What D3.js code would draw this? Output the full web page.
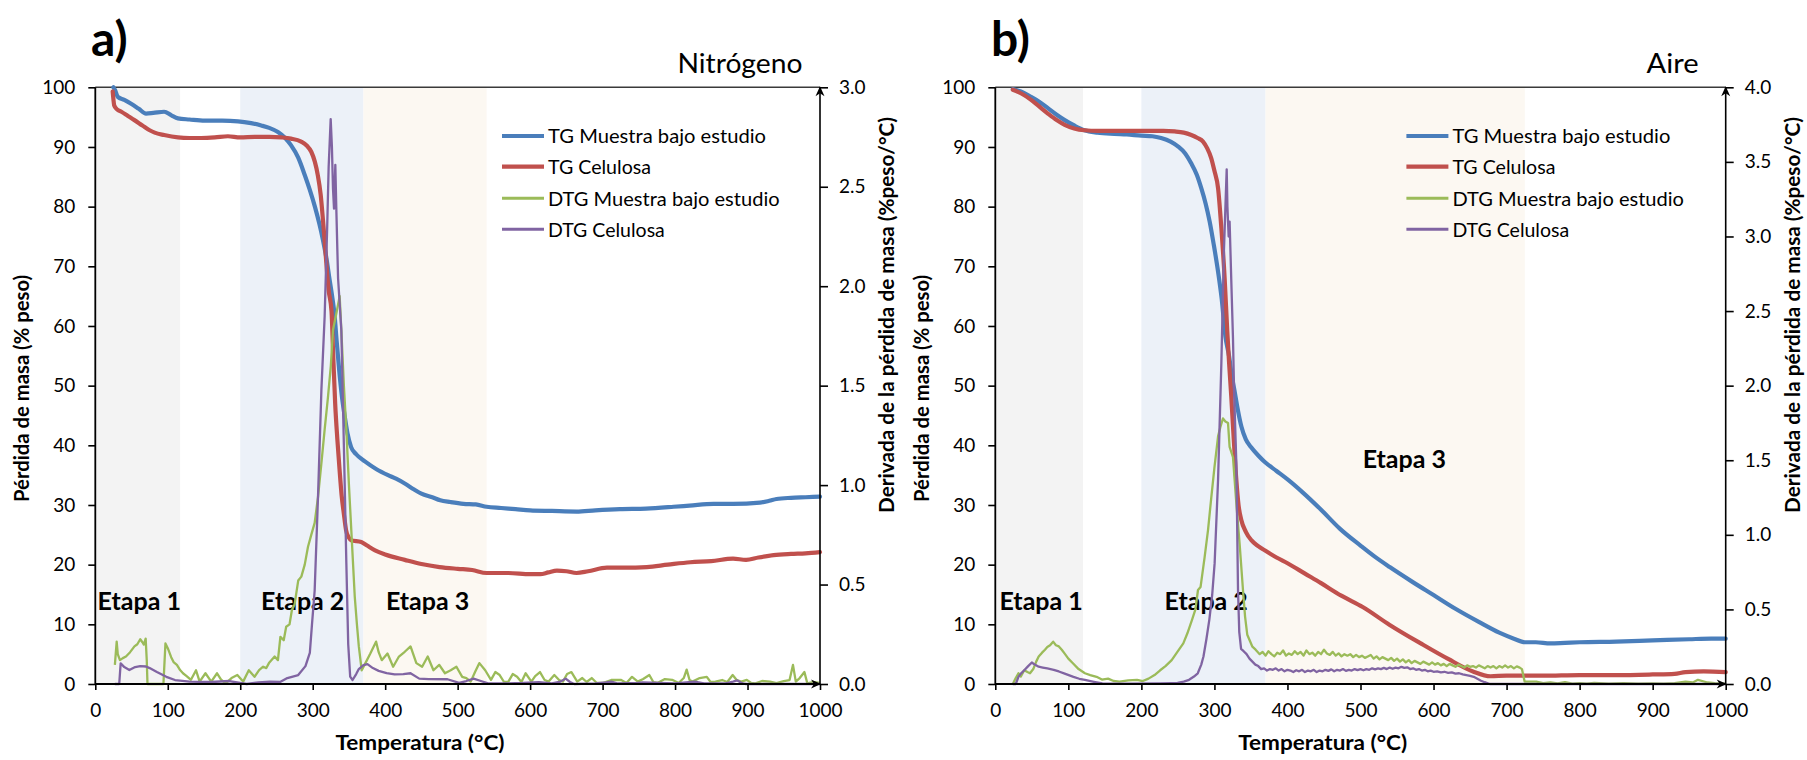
<!DOCTYPE html>
<html><head><meta charset="utf-8">
<script src="https://cdn.jsdelivr.net/npm/d3@7/dist/d3.min.js"></script>
<style>
body{margin:0;background:#fff;}
svg{display:block;}
</style></head><body>
<svg id="chart" width="1807" height="760"></svg>
<script>
// ---------------- DATA ----------------
const tempTicks = [0,100,200,300,400,500,600,700,800,900,1000];
const pctTicks = [0,10,20,30,40,50,60,70,80,90,100];
const dtgTicksN = [0,0.5,1.0,1.5,2.0,2.5,3.0];
const dtgTicksA = [0,0.5,1.0,1.5,2.0,2.5,3.0,3.5,4.0];
const seriesNames = ['TG Muestra bajo estudio','TG Celulosa','DTG Muestra bajo estudio','DTG Celulosa'];
const etapaLabels = ['Etapa 1','Etapa 2','Etapa 3'];
const stageBandsN = [[0,117],[200,370],[370,540]];
const stageBandsA = [[0,120],[200,370],[370,725]];
const panelLetters = ['a)','b)'];
const atmospheres = ['Nitrógeno','Aire'];
const xTitle = 'Temperatura (°C)';
const yLeftTitle = 'Pérdida de masa (% peso)';
const yRightTitle = 'Derivada de la pérdida de masa (%peso/°C)';

// Nitrógeno (a): TG in % peso, DTG in %peso/°C
const tgMuestraN = [[25,100],[27,99.6],[31,98.4],[40,97.9],[50,97.2],[60,96.4],[70,95.6],[80,95.7],[95,95.9],[105,95.3],[114,94.8],[130,94.6],[151,94.4],[175,94.4],[197,94.3],[215,94.0],[229,93.6],[240,93.2],[252,92.5],[262,91.5],[270,90.3],[280,88.2],[289,85.3],[296,82.8],[303,80.0],[309,77.2],[314,74.5],[319,71.3],[323,68.0],[327,64.8],[330,62.0],[333,57.5],[337,52],[341,47.5],[344,45],[348,42],[353,39.7],[360,38.5],[372,37.3],[388,36.0],[404,35],[415,34.4],[427,33.6],[440,32.6],[450,31.9],[465,31.3],[476,30.8],[490,30.5],[508,30.2],[525,30.1],[540,29.7],[560,29.5],[580,29.3],[600,29.1],[630,29.0],[664,28.9],[690,29.1],[724,29.3],[760,29.4],[798,29.7],[820,29.9],[853,30.2],[880,30.2],[917,30.4],[930,30.7],[940,31.0],[960,31.2],[980,31.3],[1000,31.4]];
const tgCelulosaN = [[24,99.3],[25,98],[26,97.0],[30,96.3],[36,95.9],[45,95.2],[54,94.5],[65,93.6],[75,92.8],[82,92.4],[95,92.0],[114,91.6],[130,91.5],[146,91.5],[165,91.6],[183,91.8],[200,91.6],[220,91.7],[240,91.7],[257,91.6],[270,91.4],[284,90.9],[292,90.2],[298,89.2],[303,87.5],[307,85.3],[311,82],[314,78],[317,73.5],[319,70.2],[322,66],[326,62.4],[328,56],[331,47],[334,41],[337,36],[340,31.5],[343,28.5],[346,25.8],[350,24.5],[353,24.1],[367,23.8],[375,23.2],[386,22.4],[400,21.7],[427,20.8],[450,20.1],[475,19.6],[500,19.3],[520,19.1],[540,18.6],[570,18.6],[600,18.4],[614,18.4],[625,18.7],[637,19.0],[650,18.9],[664,18.6],[680,18.9],[706,19.5],[730,19.5],[761,19.6],[790,20.0],[821,20.4],[850,20.6],[880,21.0],[898,20.8],[915,21.2],[936,21.6],[960,21.8],[980,21.9],[1000,22.1]];
const dtgMuestraN = [[27,0.096],[29.5,0.213],[31,0.15],[34,0.12],[38,0.13],[42.3,0.138],[48,0.16],[54,0.189],[58,0.2],[62,0.225],[65,0.21],[67,0.198],[69.5,0.228],[71,0.12],[72,0],[94,0],[96.8,0.204],[100,0.18],[104.7,0.135],[108,0.11],[112.6,0.096],[117,0.07],[121,0.054],[126,0.04],[132,0.021],[139,0.069],[144,0.012],[152,0.054],[160,0.012],[168,0.054],[174,0.02],[180,0.003],[188,0.03],[196,0.045],[204,0.012],[211.8,0.069],[219.7,0.036],[226,0.07],[231.6,0.087],[236,0.08],[239.6,0.105],[247.5,0.138],[252,0.12],[255.4,0.237],[260,0.22],[263.4,0.288],[268,0.3],[271.3,0.372],[275,0.4],[280,0.52],[284.3,0.54],[289,0.6],[293.5,0.69],[298,0.75],[302.7,0.81],[307.3,0.94],[312,1.11],[316.5,1.28],[321,1.44],[325,1.6],[328,1.78],[333,1.87],[337.2,1.95],[339.5,1.78],[343,1.5],[346.4,1.28],[350,1.0],[353.3,0.77],[358,0.44],[361,0.3],[363.6,0.19],[367.6,0.069],[372,0.1],[379.5,0.153],[387.4,0.213],[391,0.16],[395.3,0.12],[403.2,0.153],[411,0.087],[419,0.138],[427,0.162],[435,0.189],[443,0.105],[451,0.087],[458.7,0.138],[466.6,0.069],[474.6,0.096],[482.5,0.054],[490.4,0.069],[498.3,0.087],[506.3,0.036],[512,0.03],[518,0.012],[524,0.06],[530,0.105],[538,0.069],[546,0.021],[552,0.06],[558,0.045],[564,0.01],[570,0.012],[576,0.05],[582,0.036],[588,0.01],[593.8,0.054],[601.7,0.012],[607,0.04],[613.6,0.06],[620,0.02],[625.5,0.012],[633.4,0.045],[640,0.02],[645.3,0.012],[651,0.05],[657,0.06],[665,0.012],[672,0.03],[678,0.01],[685,0.03],[692,0.005],[701,0.006],[712,0.02],[725,0.021],[733,0.005],[740.6,0.036],[748.6,0.012],[756,0.025],[764.5,0.045],[770,0.01],[776.3,0.006],[786,0.025],[796,0.021],[805,0.005],[812,0.03],[816,0.072],[820,0.02],[824,0.012],[834,0.03],[843.8,0.036],[849,0.01],[855.7,0.012],[865,0.02],[872,0.01],[879.5,0.045],[885,0.02],[891.4,0.012],[899,0.021],[905,0.005],[911,0.003],[920,0.015],[931,0.012],[940,0.005],[950,0.015],[958,0.02],[962.7,0.096],[966.6,0.012],[972,0.03],[978.5,0.06],[982.5,0.003],[990,0.01],[1000,0.006]];
const dtgCelulosaN = [[27,0],[33,0],[35,0.104],[40,0.085],[47,0.07],[55,0.085],[62,0.09],[70,0.088],[75,0.08],[85,0.06],[98,0.036],[110,0.02],[130,0.012],[160,0.01],[185,0.015],[200,0.005],[209,0],[225,0.008],[241,0.012],[255,0.01],[265,0.03],[280,0.045],[290,0.09],[296,0.156],[299,0.3],[302.7,0.47],[307.3,0.94],[312,1.48],[316.5,1.85],[320,2.3],[322,2.6],[324.8,2.84],[326.5,2.7],[328,2.49],[329.4,2.39],[330.3,2.5],[331.2,2.61],[332.5,2.4],[335,2.04],[339.5,1.78],[343,1.2],[346.4,0.61],[349,0.2],[351.7,0.037],[355,0.02],[360,0.05],[363.6,0.075],[370,0.095],[375.5,0.1],[383,0.08],[391,0.066],[402,0.055],[413,0.048],[425,0.05],[435,0.054],[447,0.027],[460,0.025],[486,0.024],[502,0.006],[512,0.015],[522,0.027],[532,0.015],[542,0.003],[565,0.003],[590,0.005],[612,0.009],[630,0.003],[642,0.012],[649,0.027],[655,0.01],[661,0],[690,0.003],[705,0.008],[712,0.012],[720,0.003],[748,0.006],[755,0.008],[800,0.003],[827,0.012],[840,0.003],[870,0.003],[880,0.012],[886,0.018],[893,0.003],[898,0],[1000,0]];

// Aire (b)
const tgMuestraA = [[24,99.7],[35,99.3],[49,98.4],[60,97.6],[72,96.5],[84,95.4],[95,94.5],[108,93.6],[122,92.8],[140,92.4],[163,92.2],[180,92.1],[200,91.9],[215,91.8],[227,91.5],[240,90.9],[250,90.1],[260,88.9],[268,87.3],[276,85.3],[282,83.1],[288,80.5],[293.5,77.5],[299,73.7],[305,69.1],[310,64.5],[315,58.3],[320,55],[324,51.5],[328,48.8],[332,46],[337,43.1],[343,41],[350,39.7],[360,38.3],[369,37.2],[385,35.7],[401,34.2],[420,32.2],[446,29.2],[472,26],[500,23.2],[520,21.3],[540,19.6],[570,17.2],[600,14.9],[630,12.6],[662,10.4],[690,8.6],[710,7.6],[725,7.0],[740,7.0],[760,6.8],[780,6.9],[800,7.0],[850,7.1],[900,7.3],[950,7.5],[980,7.6],[1000,7.6]];
const tgCelulosaA = [[24,99.6],[35,99.0],[49,97.9],[60,96.8],[72,95.6],[84,94.5],[95,93.7],[108,93.1],[122,92.8],[140,92.7],[163,92.7],[200,92.7],[230,92.7],[245.6,92.6],[258,92.4],[268.3,92.0],[277,91.5],[284.4,90.9],[290,89.8],[295.7,88.1],[300,86],[305,83.1],[309.5,76.4],[314,68],[317.6,59.1],[320,54],[323.1,48.1],[326,42],[330,34.2],[333,30],[336.8,27.5],[343,25.5],[350.5,24.1],[360,23.1],[368.8,22.4],[385,21.2],[400.7,20.2],[424,18.5],[446,16.9],[473.7,14.8],[503,12.9],[540,9.9],[582.5,6.8],[620,4.2],[654,2.1],[678,1.3],[700,1.4],[750,1.4],[800,1.5],[850,1.5],[900,1.6],[930,1.7],[945,2.0],[970,2.1],[1000,2.0]];
const dtgMuestraA = [[24,0],[28,0.04],[31.7,0.072],[35,0.05],[39.6,0.092],[44,0.08],[47.5,0.072],[52,0.1],[56,0.15],[59.4,0.184],[64,0.21],[68,0.23],[71.2,0.248],[75,0.26],[79.2,0.284],[83,0.26],[87,0.252],[91,0.23],[95,0.204],[100,0.17],[106.9,0.136],[114,0.1],[122.7,0.072],[130,0.06],[138.6,0.048],[146,0.03],[154.4,0.036],[162,0.02],[170,0.016],[182,0.024],[194,0.028],[202,0.02],[209.8,0.036],[218,0.06],[225.7,0.092],[233,0.12],[241.5,0.16],[250,0.22],[257.4,0.272],[263,0.34],[269.2,0.428],[274,0.5],[277.5,0.63],[281,0.65],[286.6,0.85],[291.2,1.03],[295.7,1.25],[300,1.45],[305,1.66],[308,1.72],[311.7,1.78],[315,1.76],[318.6,1.75],[320.8,1.59],[325.4,1.52],[330,1.21],[334.5,0.94],[339.1,0.63],[342,0.45],[345,0.33],[348.5,0.29],[352,0.25],[356.4,0.23],[362,0.2],[366,0.215],[370,0.19],[374,0.22],[378,0.2],[382,0.185],[386,0.21],[390,0.2],[394,0.225],[398,0.19],[402,0.205],[406,0.195],[410,0.22],[414,0.2],[418,0.215],[422,0.19],[426,0.225],[430,0.2],[434,0.21],[438,0.19],[442,0.215],[446,0.2],[450,0.23],[454,0.205],[458,0.195],[462,0.215],[466,0.19],[470,0.205],[474,0.185],[478,0.2],[482,0.19],[486,0.2],[490,0.18],[494,0.195],[498,0.18],[502,0.19],[506,0.175],[510,0.185],[514,0.195],[518,0.17],[522,0.185],[526,0.165],[530,0.18],[534,0.17],[538,0.16],[542,0.175],[546,0.155],[550,0.17],[554,0.15],[558,0.165],[562,0.145],[566,0.16],[570,0.14],[574,0.155],[578,0.145],[582,0.135],[586,0.15],[590,0.14],[594,0.13],[598,0.145],[602,0.13],[606,0.14],[610,0.125],[614,0.135],[618,0.12],[622,0.135],[626,0.125],[630,0.115],[634,0.13],[638,0.12],[642,0.11],[646,0.125],[650,0.115],[654,0.12],[658,0.11],[662,0.125],[666,0.115],[670,0.105],[674,0.12],[678,0.11],[682,0.12],[686,0.105],[690,0.12],[694,0.11],[698,0.125],[702,0.11],[706,0.12],[710,0.105],[714,0.118],[718,0.11],[721,0.1],[724.7,0.016],[740.6,0.016],[750,0.006],[760,0.01],[770,0.004],[780,0.012],[790,0.003],[800,0.006],[810,0.002],[820,0.008],[840,0.003],[860,0.005],[880,0.002],[899,0.004],[915,0.002],[930,0.005],[945,0.015],[955,0.01],[962,0.028],[975,0.01],[985,0.006],[994,0.004],[1000,0.003]];
const dtgCelulosaA = [[24,0],[28,0],[31.7,0.048],[35,0.07],[39.6,0.092],[45,0.12],[50,0.144],[54,0.13],[59.4,0.116],[65,0.11],[71.2,0.104],[80,0.095],[87,0.084],[95,0.07],[107,0.048],[115,0.035],[122.7,0.028],[135,0.015],[146.5,0.004],[180,0.002],[225.7,0.004],[240,0.006],[249.5,0.008],[258,0.016],[265.3,0.028],[272,0.05],[277.2,0.072],[282,0.13],[285,0.184],[289,0.3],[293,0.43],[297,0.6],[300.3,0.81],[305,1.37],[309.5,2.15],[313,2.9],[316.8,3.45],[317.8,3.2],[318.6,3.10],[319.5,3.0],[320.8,3.10],[323,2.72],[325.4,2.32],[327,1.95],[330,1.48],[332.3,0.63],[334,0.35],[336.5,0.236],[340,0.22],[344,0.2],[348,0.17],[352,0.15],[356,0.13],[360,0.12],[364,0.1],[368,0.105],[372,0.09],[376,0.1],[380,0.095],[384,0.105],[388,0.09],[392,0.1],[396,0.085],[400,0.095],[404,0.09],[408,0.08],[412,0.092],[416,0.085],[420,0.095],[424,0.08],[428,0.09],[432,0.085],[436,0.095],[440,0.08],[444,0.09],[448,0.085],[452,0.095],[456,0.088],[460,0.098],[464,0.085],[468,0.095],[472,0.09],[476,0.1],[480,0.088],[484,0.095],[488,0.09],[492,0.1],[496,0.093],[500,0.1],[504,0.092],[508,0.1],[512,0.095],[516,0.105],[520,0.098],[524,0.105],[528,0.1],[532,0.108],[536,0.1],[540,0.11],[544,0.102],[548,0.11],[552,0.105],[556,0.115],[560,0.108],[564,0.112],[568,0.1],[572,0.105],[576,0.095],[580,0.1],[584,0.09],[588,0.095],[592,0.085],[596,0.09],[600,0.082],[605,0.085],[610,0.078],[615,0.082],[620,0.075],[625,0.078],[630,0.07],[635,0.072],[640,0.065],[645,0.06],[650,0.055],[655,0.048],[660,0.035],[665,0.022],[670,0.012],[677,0],[1000,0]];

// ---------------- DRAWING ----------------
const svg = d3.select('#chart');
const FONT = "Lato, 'Open Sans', sans-serif";
const colors = ['#4a7ebb','#c0504d','#9bbb59','#8064a2'];
const bandColors = ['#f3f3f3','#ecf1f8','#fcf8f2'];

const defs = svg.append('defs');
defs.append('marker').attr('id','arrowHead')
  .attr('viewBox','-10 -6 12 12').attr('refX',0).attr('refY',0)
  .attr('markerWidth',12).attr('markerHeight',12).attr('markerUnits','userSpaceOnUse')
  .attr('orient','auto')
  .append('path').attr('d','M1,0 L-9,-4.5 L-6,0 L-9,4.5 Z').attr('fill','#000');

const panels = [
  {left:95.3, right:820, top:87.3, bottom:684, rMax:3, rTicks:dtgTicksN, bands:stageBandsN,
   series:[tgMuestraN,tgCelulosaN,dtgMuestraN,dtgCelulosaN],
   letterX:91, gasRight:802.5, gasW:125, legendX:502, titleLX:29.3, titleRX:893.5, xTitleCx:420,
   etapas:[[3.2,12.4],[228.7,12.4],[401,12.4]]},
  {left:995.3, right:1725.7, top:87.3, bottom:684, rMax:4, rTicks:dtgTicksA, bands:stageBandsA,
   series:[tgMuestraA,tgCelulosaA,dtgMuestraA,dtgCelulosaA],
   letterX:991, gasRight:1698.6, gasW:52, legendX:1406.4, titleLX:929.3, titleRX:1799.5, xTitleCx:1322.7,
   etapas:[[5.75,12.4],[231.7,12.4],[503,36.2]]}
];

panels.forEach((p, pi) => {
  const x = d3.scaleLinear().domain([0,1000]).range([p.left, p.right]);
  const yL = d3.scaleLinear().domain([0,100]).range([p.bottom, p.top]);
  const yR = d3.scaleLinear().domain([0,p.rMax]).range([p.bottom, p.top]);
  const g = svg.append('g');

  // stage bands
  g.selectAll('rect.band').data(p.bands).join('rect').attr('class','band')
    .attr('x', d => x(d[0])).attr('width', d => x(d[1]) - x(d[0]))
    .attr('y', p.top).attr('height', p.bottom - p.top)
    .attr('fill', (d,i) => bandColors[i]);

  // top border line
  g.append('line').attr('x1', x(0)).attr('x2', x(1000)).attr('y1', yL(100)).attr('y2', yL(100))
    .attr('stroke','#3a3a3a').attr('stroke-width',1.6);

  // Etapa labels
  g.selectAll('text.etapa').data(p.etapas).join('text').attr('class','etapa')
    .attr('x', d => x(d[0])).attr('y', d => yL(d[1]))
    .attr('font-family', FONT).attr('font-weight', 700).attr('font-size', 25)
    .attr('fill','#000').text((d,i) => etapaLabels[i]);

  // lines
  const tgLine = d3.line().x(d => x(d[0])).y(d => yL(d[1])).curve(d3.curveMonotoneX);
  const dtgLine = d3.line().x(d => x(d[0])).y(d => yR(d[1])).curve(d3.curveLinear);
  g.append('path').datum(p.series[0]).attr('d', tgLine).attr('fill','none')
    .attr('stroke', colors[0]).attr('stroke-width',4.2).attr('stroke-linejoin','round').attr('stroke-linecap','round');
  g.append('path').datum(p.series[1]).attr('d', tgLine).attr('fill','none')
    .attr('stroke', colors[1]).attr('stroke-width',4.2).attr('stroke-linejoin','round').attr('stroke-linecap','round');
  g.append('path').datum(p.series[2]).attr('d', dtgLine).attr('fill','none')
    .attr('stroke', colors[2]).attr('stroke-width',2.3).attr('stroke-linejoin','round');
  g.append('path').datum(p.series[3]).attr('d', dtgLine).attr('fill','none')
    .attr('stroke', colors[3]).attr('stroke-width',2.3).attr('stroke-linejoin','round');

  // axes
  const axL = g.append('g').attr('transform', `translate(${p.left},0)`)
    .call(d3.axisLeft(yL).tickValues(pctTicks).tickSize(7).tickSizeOuter(0).tickPadding(13));
  const axR = g.append('g').attr('transform', `translate(${p.right},0)`)
    .call(d3.axisRight(yR).tickValues(p.rTicks).tickFormat(d3.format('.1f')).tickSize(8).tickSizeOuter(0).tickPadding(11));
  const axB = g.append('g').attr('transform', `translate(0,${p.bottom})`)
    .call(d3.axisBottom(x).tickValues(tempTicks).tickFormat(d3.format('d')).tickSize(6).tickSizeOuter(0).tickPadding(14));
  [axL, axR, axB].forEach(a => {
    a.selectAll('text').attr('font-family', FONT).attr('font-size', 19).attr('fill','#000');
    a.selectAll('.tick line').attr('stroke','#000').attr('stroke-width',1.6);
    a.select('.domain').remove();
  });
  // axis lines
  g.append('line').attr('x1', p.left).attr('x2', p.left).attr('y1', p.top).attr('y2', p.bottom)
    .attr('stroke','#000').attr('stroke-width',1.8);
  g.append('line').attr('x1', p.right).attr('x2', p.right).attr('y1', p.bottom).attr('y2', p.top)
    .attr('stroke','#000').attr('stroke-width',1.6).attr('marker-end','url(#arrowHead)');
  g.append('line').attr('x1', p.left).attr('x2', p.right).attr('y1', p.bottom).attr('y2', p.bottom)
    .attr('stroke','#000').attr('stroke-width',1.8).attr('marker-end','url(#arrowHead)');

  // legend
  const lg = g.append('g');
  const rowsY = [136, 166.7, 198.3, 229.3];
  const legendW = [218, 103, 231.6, 116.8];
  seriesNames.forEach((name, i) => {
    lg.append('line').attr('x1', p.legendX).attr('x2', p.legendX + 42).attr('y1', rowsY[i]).attr('y2', rowsY[i])
      .attr('stroke', colors[i]).attr('stroke-width', i < 2 ? 4.2 : 3);
    lg.append('text').attr('x', p.legendX + 46).attr('y', rowsY[i]).attr('dy','0.36em')
      .attr('font-family', FONT).attr('font-size', 20).attr('fill','#000')
      .attr('textLength', legendW[i]).attr('lengthAdjust','spacingAndGlyphs')
      .text(name);
  });

  // panel letter
  g.append('text').attr('x', p.letterX).attr('y', 56).attr('font-family', FONT)
    .attr('font-weight', 700).attr('font-size', 48).attr('fill','#000').text(panelLetters[pi]);
  // atmosphere label
  g.append('text').attr('x', p.gasRight).attr('y', 72.7).attr('text-anchor','end')
    .attr('font-family', FONT).attr('font-size', 27).attr('fill','#000')
    .attr('textLength', p.gasW).attr('lengthAdjust','spacingAndGlyphs')
    .text(atmospheres[pi]);

  // axis titles
  g.append('text').attr('transform', `translate(${p.titleLX},388.5) rotate(-90)`)
    .attr('text-anchor','middle').attr('font-family', FONT).attr('font-weight', 700)
    .attr('font-size', 20).attr('fill','#000')
    .attr('textLength', 227).attr('lengthAdjust','spacingAndGlyphs')
    .text(yLeftTitle);
  g.append('text').attr('transform', `translate(${p.titleRX},315) rotate(-90)`)
    .attr('text-anchor','middle').attr('font-family', FONT).attr('font-weight', 700)
    .attr('font-size', 20).attr('fill','#000')
    .attr('textLength', 396).attr('lengthAdjust','spacingAndGlyphs')
    .text(yRightTitle);
  g.append('text').attr('x', p.xTitleCx).attr('y', 750).attr('text-anchor','middle')
    .attr('font-family', FONT).attr('font-weight', 700).attr('font-size', 21).attr('fill','#000')
    .attr('textLength', 169).attr('lengthAdjust','spacingAndGlyphs')
    .text(xTitle);
});
</script>
</body></html>
